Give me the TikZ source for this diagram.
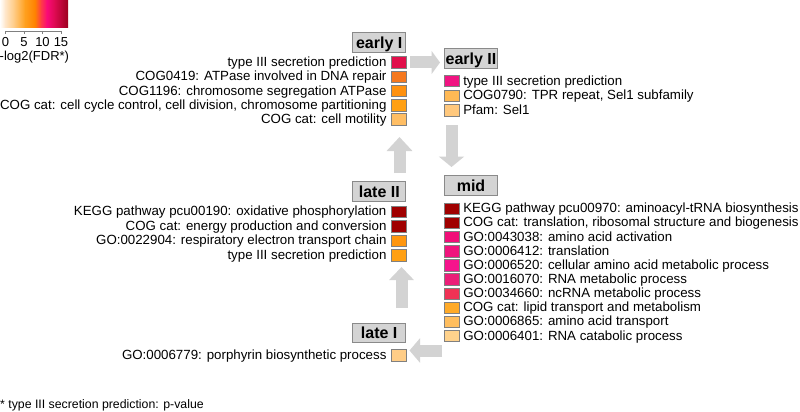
\documentclass[tikz,border=0pt]{standalone}
\usepackage{fontspec}
\setmainfont{Liberation Sans}
\usetikzlibrary{arrows.meta}
\definecolor{g0}{RGB}{255,255,255}
\definecolor{g1}{RGB}{255,232,205}
\definecolor{g2}{RGB}{255,200,125}
\definecolor{g3}{RGB}{255,160,30}
\definecolor{g4}{RGB}{255,130,0}
\definecolor{g5}{RGB}{255,60,70}
\definecolor{g6}{RGB}{250,10,120}
\definecolor{g7}{RGB}{220,10,80}
\definecolor{g8}{RGB}{155,0,30}
\definecolor{arrgray}{RGB}{211,211,211}
\definecolor{boxfill}{RGB}{212,212,212}
\definecolor{boxline}{RGB}{138,138,138}
\definecolor{sqline}{RGB}{128,128,128}
\definecolor{cdark}{RGB}{160,0,0}
\definecolor{cEa}{RGB}{225,15,75}
\definecolor{cEb}{RGB}{245,120,30}
\definecolor{cEc}{RGB}{255,145,15}
\definecolor{cEd}{RGB}{255,160,20}
\definecolor{cEe}{RGB}{255,190,100}
\definecolor{cFa}{RGB}{240,20,130}
\definecolor{cFb}{RGB}{255,185,85}
\definecolor{cFc}{RGB}{255,200,125}
\definecolor{cMc}{RGB}{240,15,120}
\definecolor{cMd}{RGB}{240,20,125}
\definecolor{cMe}{RGB}{245,20,140}
\definecolor{cMf}{RGB}{235,30,120}
\definecolor{cMg}{RGB}{240,50,85}
\definecolor{cMh}{RGB}{255,170,40}
\definecolor{cMi}{RGB}{255,190,95}
\definecolor{cMj}{RGB}{255,210,140}
\definecolor{cLc}{RGB}{255,150,15}
\definecolor{cLd}{RGB}{255,160,20}
\definecolor{cKa}{RGB}{255,205,135}
\tikzset{
  sq/.style={draw=sqline, line width=0.7pt, minimum width=15pt, minimum height=11.5pt, inner sep=0pt},
  lbl/.style={inner sep=0pt, font=\fontsize{13.3}{14}\selectfont},
  hdr/.style={draw=boxline, fill=boxfill, line width=1pt, minimum width=53pt, minimum height=19.5pt, inner sep=0pt, text height=11.5pt, text depth=0pt, font=\fontsize{16}{16}\selectfont\bfseries},
  flow/.style={draw=arrgray, line width=12pt}
}
\newcommand{\itemrowL}[4]{\node[sq,fill=#3] (#1) at (399.2,#2) {}; \node[lbl,anchor=base east] (#1t) at ([xshift=-4.7pt,yshift=-4pt]#1.west) {#4};}
\newcommand{\itemrowR}[4]{\node[sq,fill=#3] (#1) at (452.2,#2) {}; \node[lbl,anchor=base west] (#1t) at ([xshift=3pt,yshift=-4pt]#1.east) {#4};}
\begin{document}
\begin{tikzpicture}[x=1pt,y=-1pt]
\useasboundingbox (0,0) rectangle (800,412);
% legend colour bar
\foreach \xa/\xb/\ca/\cb in {0/5/g0/g1,5/15/g1/g2,15/25/g2/g3,25/35/g3/g4,35/41/g4/g5,41/47/g5/g6,47/55/g6/g7,55/68/g7/g8}{
  \shade[left color=\ca, right color=\cb] (\xa-0.2,0) rectangle (\xb+0.2,28);
}
\draw[sqline, line width=0.7pt] (5.5,31) -- (61,31);
\foreach \tx/\tl in {5.5/0,24/5,42.5/10,61/15}{
  \draw[sqline, line width=0.7pt] (\tx,31) -- (\tx,34);
  \node[lbl, font=\fontsize{13}{13}\selectfont, anchor=base] at (\tx,46.6) {\tl};
}
\node[lbl, font=\fontsize{13}{13}\selectfont, anchor=base west] (legtitle) at (-0.5,61) {-log2(FDR*)};
% headers
\node[hdr] (earlyI) at (379.2,42.3) {early I};
\node[hdr] (earlyII) at (471,58.5) {early II};
\node[hdr] (mid) at (471,185.5) {mid};
\node[hdr] (lateII) at (379.3,191.7) {late II};
\node[hdr] (lateI) at (379.2,333) {late I};
% early I
\itemrowL{ea}{62.5}{cEa}{type III secretion prediction}
\itemrowL{eb}{76.75}{cEb}{COG0419: ATPase involved in DNA repair}
\itemrowL{ec}{91}{cEc}{COG1196: chromosome segregation ATPase}
\itemrowL{ed}{105.25}{cEd}{COG cat: cell cycle control, cell division, chromosome partitioning}
\itemrowL{ee}{119.5}{cEe}{COG cat: cell motility}
% early II
\itemrowR{fa}{81}{cFa}{type III secretion prediction}
\itemrowR{fb}{95.6}{cFb}{COG0790: TPR repeat, Sel1 subfamily}
\itemrowR{fc}{110.2}{cFc}{Pfam: Sel1}
% mid
\itemrowR{ma}{208.7}{cdark}{KEGG pathway pcu00970: aminoacyl-tRNA biosynthesis}
\itemrowR{mb}{222.85}{cdark}{COG cat: translation, ribosomal structure and biogenesis}
\itemrowR{mc}{237}{cMc}{GO:0043038: amino acid activation}
\itemrowR{md}{251.15}{cMd}{GO:0006412: translation}
\itemrowR{me}{265.3}{cMe}{GO:0006520: cellular amino acid metabolic process}
\itemrowR{mf}{279.45}{cMf}{GO:0016070: RNA metabolic process}
\itemrowR{mg}{293.6}{cMg}{GO:0034660: ncRNA metabolic process}
\itemrowR{mh}{307.75}{cMh}{COG cat: lipid transport and metabolism}
\itemrowR{mi}{321.9}{cMi}{GO:0006865: amino acid transport}
\itemrowR{mj}{336.05}{cMj}{GO:0006401: RNA catabolic process}
% late II
\itemrowL{la}{211.7}{cdark}{KEGG pathway pcu00190: oxidative phosphorylation}
\itemrowL{lb}{226.2}{cdark}{COG cat: energy production and conversion}
\itemrowL{lc}{240.7}{cLc}{GO:0022904: respiratory electron transport chain}
\itemrowL{ld}{255.2}{cLd}{type III secretion prediction}
% late I
\itemrowL{ka}{355.3}{cKa}{GO:0006779: porphyrin biosynthetic process}
% arrows
\coordinate (a1s) at (410,62.5);  \coordinate (a1e) at (440,62.5);
\coordinate (a2s) at (451.5,125); \coordinate (a2e) at (451.5,167);
\coordinate (a3s) at (442,350.5); \coordinate (a3e) at (409.5,350.5);
\coordinate (a4s) at (401.5,308); \coordinate (a4e) at (401.5,267);
\coordinate (a5s) at (399.5,173); \coordinate (a5e) at (399.5,137);
\draw[flow, -{Triangle[width=23pt,length=8.5pt]}] (a1s) -- (a1e);
\draw[flow, -{Triangle[width=25pt,length=10.5pt]}] (a2s) -- (a2e);
\draw[flow, -{Triangle[width=24pt,length=10.5pt]}] (a3s) -- (a3e);
\draw[flow, -{Triangle[width=24pt,length=13pt]}] (a4s) -- (a4e);
\draw[flow, -{Triangle[width=25pt,length=14pt]}] (a5s) -- (a5e);
% footnote
\node[lbl, font=\fontsize{12.3}{13}\selectfont, anchor=base west] (foot) at (0,408.5) {* type III secretion prediction: p-value};
\end{tikzpicture}
\end{document}
